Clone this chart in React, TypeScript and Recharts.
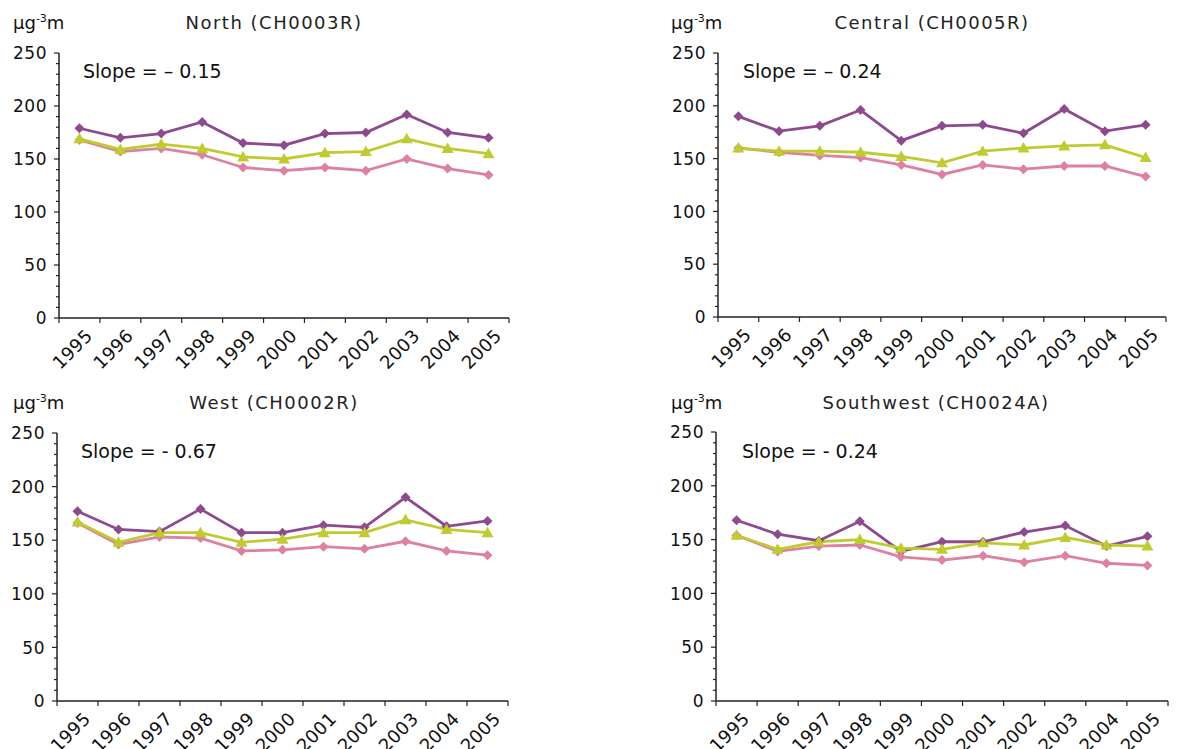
import React from 'react'
import { LineChart, Line, XAxis, YAxis } from 'recharts'

const years = ['1995', '1996', '1997', '1998', '1999', '2000', '2001', '2002', '2003', '2004', '2005']
const yTicks = [0, 10, 20, 30, 40, 50, 60, 70, 80, 90, 100, 110, 120, 130, 140, 150, 160, 170, 180, 190, 200, 210, 220, 230, 240, 250]

const northPurple = [179, 170, 174, 185, 165, 163, 174, 175, 192, 175, 170]
const northGreen = [169, 159, 164, 160, 152, 150, 156, 157, 169, 160, 155]
const northPink = [168, 157, 160, 154, 142, 139, 142, 139, 150, 141, 135]

const centralPurple = [190, 176, 181, 196, 167, 181, 182, 174, 197, 176, 182]
const centralGreen = [160, 157, 157, 156, 152, 146, 157, 160, 162, 163, 151]
const centralPink = [160, 156, 153, 151, 144, 135, 144, 140, 143, 143, 133]

const westPurple = [177, 160, 158, 179, 157, 157, 164, 162, 190, 163, 168]
const westGreen = [167, 148, 157, 157, 148, 151, 157, 157, 169, 160, 157]
const westPink = [166, 146, 153, 152, 140, 141, 144, 142, 149, 140, 136]

const southwestPurple = [168, 155, 149, 167, 139, 148, 148, 157, 163, 144, 153]
const southwestGreen = [154, 141, 148, 150, 142, 141, 147, 145, 152, 145, 144]
const southwestPink = [154, 139, 144, 145, 134, 131, 135, 129, 135, 128, 126]

const PURPLE = '#8e4a8e'
const GREEN = '#bfcb2e'
const PINK = '#de80a2'
const AXIS = '#222'
const FONT = '"DejaVu Sans", Verdana, sans-serif'

const panels = [
  { title: 'North (CH0003R)', slope: 'Slope = – 0.15', purple: northPurple, green: northGreen, pink: northPink,
    left: 0, top: 0, h: 375, axisX: 59, plotTop: 53, plotBottom: 318, plotRight: 509, titleX: 274, slopeX: 83 },
  { title: 'Central (CH0005R)', slope: 'Slope = – 0.24', purple: centralPurple, green: centralGreen, pink: centralPink,
    left: 659, top: 0, h: 375, axisX: 59, plotTop: 53, plotBottom: 317, plotRight: 507, titleX: 932, slopeX: 743 },
  { title: 'West (CH0002R)', slope: 'Slope = - 0.67', purple: westPurple, green: westGreen, pink: westPink,
    left: 0, top: 380, h: 369, axisX: 57, plotTop: 53, plotBottom: 321, plotRight: 508, titleX: 274, slopeX: 81 },
  { title: 'Southwest (CH0024A)', slope: 'Slope = - 0.24', purple: southwestPurple, green: southwestGreen, pink: southwestPink,
    left: 659, top: 380, h: 369, axisX: 57, plotTop: 52, plotBottom: 321, plotRight: 509, titleX: 936, slopeX: 742 },
]

const W = 590

function diamond(fill: string) {
  return (p: any) => {
    if (p.cx == null || p.cy == null) return <g key={`d${p.index}`} />
    const r = 5
    const { cx, cy } = p
    return <path key={`d${p.index}`} d={`M${cx},${cy - r}L${cx + r},${cy}L${cx},${cy + r}L${cx - r},${cy}Z`} fill={fill} />
  }
}

function triangle(fill: string) {
  return (p: any) => {
    if (p.cx == null || p.cy == null) return <g key={`t${p.index}`} />
    const { cx, cy } = p
    return <path key={`t${p.index}`} d={`M${cx},${cy - 6}L${cx + 6},${cy + 4.5}L${cx - 6},${cy + 4.5}Z`} fill={fill} />
  }
}

function makeXTick(bw: number) {
  return (props: any) => {
    const { x, y, payload, index } = props
    const lx = x + 14
    const ly = y + 19
    return (
      <g>
        <line x1={x - bw / 2} x2={x - bw / 2} y1={y} y2={y + 5} stroke={AXIS} strokeWidth={1.2} />
        {index === years.length - 1 && (
          <line x1={x + bw / 2} x2={x + bw / 2} y1={y} y2={y + 5} stroke={AXIS} strokeWidth={1.2} />
        )}
        <text x={lx} y={ly} textAnchor="end" transform={`rotate(-45 ${lx} ${ly})`}
          fontFamily={FONT} fontSize={18} letterSpacing={0.3} fill="#111">
          {years[payload.value]}
        </text>
      </g>
    )
  }
}

function YTick(props: any) {
  const { x, y, payload } = props
  const major = payload.value % 50 === 0
  return (
    <g>
      <line x1={x - (major ? 5 : 3)} x2={x} y1={y} y2={y} stroke={AXIS} strokeWidth={1.2} />
      {major && (
        <text x={x - 12} y={y} dy="0.36em" textAnchor="end" fontFamily={FONT} fontSize={17} letterSpacing={0.5} fill="#111">
          {payload.value}
        </text>
      )}
    </g>
  )
}

function Panel({ p }: { p: (typeof panels)[number] }) {
  const data = years.map((_, i) => ({ i, purple: p.purple[i], green: p.green[i], pink: p.pink[i] }))
  const bw = (p.plotRight - p.axisX) / years.length
  return (
    <div style={{ position: 'absolute', left: p.left, top: p.top }}>
      <LineChart width={W} height={p.h} data={data}
        margin={{ top: p.plotTop, left: 0, right: W - p.plotRight, bottom: 0 }}>
        <XAxis type="number" dataKey="i" domain={[-0.5, 10.5]} ticks={[0, 1, 2, 3, 4, 5, 6, 7, 8, 9, 10]}
          interval={0} height={p.h - p.plotBottom} tickLine={false} tickSize={0} tickMargin={0}
          axisLine={{ stroke: AXIS, strokeWidth: 1.5 }} tick={makeXTick(bw)} />
        <YAxis type="number" domain={[0, 250]} ticks={yTicks} interval={0} width={p.axisX}
          tickLine={false} tickSize={0} tickMargin={0}
          axisLine={{ stroke: AXIS, strokeWidth: 1.5 }} tick={YTick} />
        <Line dataKey="purple" stroke={PURPLE} strokeWidth={2.8} dot={diamond(PURPLE)} isAnimationActive={false} />
        <Line dataKey="pink" stroke={PINK} strokeWidth={2.8} dot={diamond(PINK)} isAnimationActive={false} />
        <Line dataKey="green" stroke={GREEN} strokeWidth={2.8} dot={triangle(GREEN)} isAnimationActive={false} />
      </LineChart>
    </div>
  )
}

export default function App() {
  return (
    <div style={{ position: 'absolute', left: 0, top: 0, width: 1181, height: 749, background: '#fff' }}>
      {panels.map((p) => <Panel key={p.title} p={p} />)}
      <svg width={1181} height={749} style={{ position: 'absolute', left: 0, top: 0, pointerEvents: 'none' }}>
        {panels.map((p) => (
          <g key={p.title} fontFamily={FONT} fill="#111">
            <text x={p.left + 13 - (p.left ? 1 : 0)} y={p.top + 29} fontSize={18}>
              µg<tspan fontSize={11} dy={-7}>-3</tspan><tspan dy={7}>m</tspan>
            </text>
            <text x={p.titleX} y={p.top + 29} fontSize={18} letterSpacing={1.5} textAnchor="middle" fill="#222">
              {p.title}
            </text>
            <text x={p.slopeX} y={p.top + 78} fontSize={19}>{p.slope}</text>
          </g>
        ))}
      </svg>
    </div>
  )
}
